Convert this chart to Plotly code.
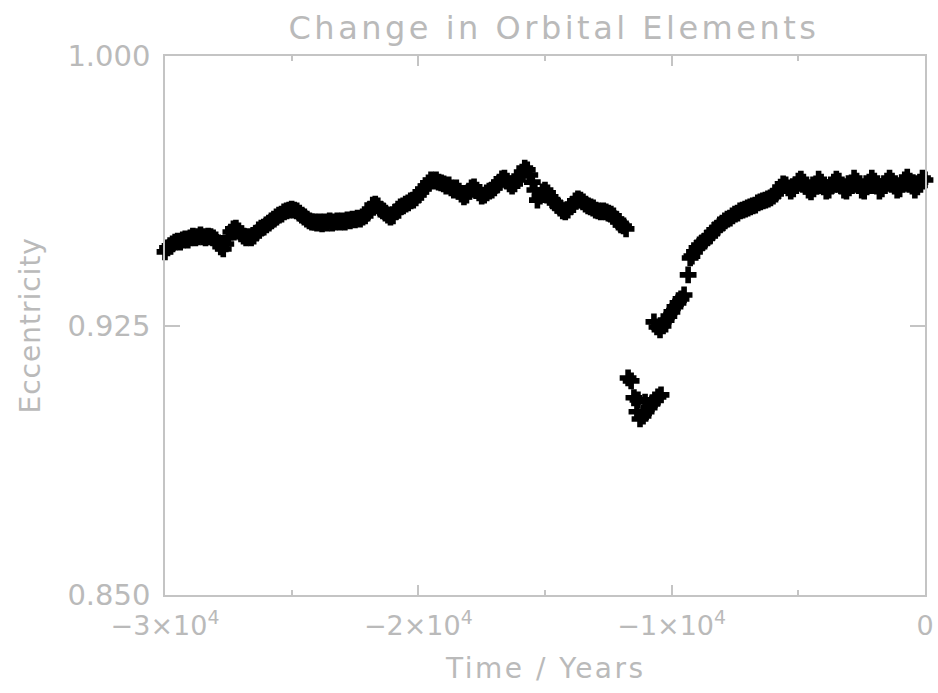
import numpy as np
import plotly.graph_objects as go

# ---- data (time in years, eccentricity) ----
# Segment 1: sampled every 100 yr from -30000 to -11800
seg1_start = -30000
seg1_step = 100
seg1_ecc = [
    0.9455, 0.9466, 0.9472, 0.9477, 0.9482, 0.9485, 0.9482, 0.9488, 0.9491, 0.9488,
    0.9494, 0.9499, 0.9494, 0.9497, 0.9502, 0.9497, 0.9494, 0.9499, 0.9497, 0.9494,
    0.9488, 0.9480, 0.9469, 0.9463, 0.9477, 0.9494, 0.9510, 0.9519, 0.9521, 0.9513,
    0.9505, 0.9499, 0.9494, 0.9497, 0.9494, 0.9499, 0.9507, 0.9516, 0.9521, 0.9524,
    0.9530, 0.9535, 0.9541, 0.9546, 0.9552, 0.9557, 0.9560, 0.9566, 0.9569, 0.9571,
    0.9574, 0.9571, 0.9569, 0.9563, 0.9557, 0.9552, 0.9546, 0.9541, 0.9538, 0.9538,
    0.9535, 0.9538, 0.9533, 0.9538, 0.9535, 0.9541, 0.9535, 0.9538, 0.9541, 0.9538,
    0.9541, 0.9538, 0.9544, 0.9541, 0.9546, 0.9544, 0.9549, 0.9546, 0.9552, 0.9555,
    0.9563, 0.9574, 0.9585, 0.9588, 0.9583, 0.9574, 0.9569, 0.9563, 0.9557, 0.9552,
    0.9555, 0.9566, 0.9574, 0.9580, 0.9583, 0.9588, 0.9591, 0.9597, 0.9599, 0.9605,
    0.9613, 0.9622, 0.9630, 0.9638, 0.9647, 0.9655, 0.9652, 0.9655, 0.9649, 0.9647,
    0.9644, 0.9638, 0.9641, 0.9633, 0.9627, 0.9633, 0.9624, 0.9616, 0.9608, 0.9613,
    0.9624, 0.9633, 0.9636, 0.9627, 0.9619, 0.9610, 0.9613, 0.9619, 0.9624, 0.9627,
    0.9633, 0.9641, 0.9649, 0.9658, 0.9660, 0.9652, 0.9644, 0.9638, 0.9644, 0.9655,
    0.9666, 0.9677, 0.9688, 0.9683, 0.9669, 0.9649, 0.9627, 0.9599, 0.9610, 0.9622,
    0.9627, 0.9619, 0.9608, 0.9597, 0.9591, 0.9585, 0.9577, 0.9569, 0.9566, 0.9571,
    0.9580, 0.9588, 0.9597, 0.9602, 0.9599, 0.9594, 0.9588, 0.9583, 0.9580, 0.9577,
    0.9571, 0.9569, 0.9566, 0.9569, 0.9566, 0.9563, 0.9560, 0.9555, 0.9546, 0.9538,
    0.9530, 0.9527, 0.9519,
]

# Segment 2: the excursion, irregular sampling
seg2_time = [-11720, -11600, -11490, -11370, -11330, -11250, -11130, -11050, -11010,
             -10890, -10780, -10660, -10540, -10420,
             -10700, -10580, -10460, -10340, -10220, -10110, -9990, -9870, -9750,
             -9630, -9510, -9350, -9270]
seg2_ecc = [0.9104, 0.9096, 0.9049, 0.9010, 0.9043, 0.8990, 0.8998, 0.9037, 0.9010,
            0.9021, 0.9032, 0.9043, 0.9051, 0.9057,
            0.9260, 0.9246, 0.9238, 0.9249, 0.9265, 0.9276, 0.9288, 0.9302, 0.9313,
            0.9324, 0.9335, 0.9391, 0.9438]

# Segment 3: sampled every 100 yr from -9200 to 0
seg3_start = -9200
seg3_step = 100
seg3_ecc = [
    0.9443, 0.9455, 0.9466, 0.9474, 0.9480, 0.9485, 0.9494, 0.9499, 0.9508, 0.9516,
    0.9521, 0.9530, 0.9535, 0.9541, 0.9546, 0.9549, 0.9555, 0.9560, 0.9563, 0.9569,
    0.9571, 0.9574, 0.9577, 0.9580, 0.9583, 0.9585, 0.9591, 0.9594, 0.9597, 0.9599,
    0.9602, 0.9605, 0.9610, 0.9616, 0.9624, 0.9635, 0.9644, 0.9641, 0.9633, 0.9624,
    0.9630, 0.9641, 0.9652, 0.9657, 0.9649, 0.9638, 0.9627, 0.9622, 0.9630, 0.9644,
    0.9657, 0.9649, 0.9636, 0.9624, 0.9627, 0.9638, 0.9649, 0.9657, 0.9652, 0.9638,
    0.9627, 0.9624, 0.9633, 0.9647, 0.9660, 0.9652, 0.9641, 0.9627, 0.9624, 0.9636,
    0.9649, 0.9660, 0.9652, 0.9638, 0.9624, 0.9630, 0.9641, 0.9652, 0.9660, 0.9652,
    0.9638, 0.9627, 0.9630, 0.9644, 0.9655, 0.9663, 0.9652, 0.9638, 0.9627, 0.9636,
    0.9649, 0.9660, 0.9655,
]

x_tickvals = [-30000, -20000, -10000, 0]
x_ticktext = ["\u22123\u00d710<sup>4</sup>", "\u22122\u00d710<sup>4</sup>",
              "\u22121\u00d710<sup>4</sup>", "0"]
x_minor = [-25000, -15000, -5000]
y_tickvals = [0.85, 0.925, 1.0]
y_ticktext = ["0.850", "0.925", "1.000"]

seg1_time = seg1_start + seg1_step * np.arange(len(seg1_ecc))
seg3_time = seg3_start + seg3_step * np.arange(len(seg3_ecc))
time = np.concatenate([seg1_time, seg2_time, seg3_time])
ecc = np.concatenate([seg1_ecc, seg2_ecc, seg3_ecc])

GRAY_TXT = "#bababa"
GRAY_AX = "#c4c4c4"
FONT = "DejaVu Sans"


def spaced(s, px):
    return f'<span style="letter-spacing:{px}px">{s}</span>'


fig = go.Figure()
fig.add_trace(go.Scatter(
    x=time, y=ecc, mode="markers",
    marker=dict(symbol="cross", size=14, color="black", line=dict(width=0)),
    cliponaxis=False, showlegend=False,
))

axis_common = dict(
    showgrid=False, zeroline=False, showline=True, linecolor=GRAY_AX, linewidth=1.5,
    mirror="allticks", ticks="inside", tickcolor=GRAY_AX, tickwidth=1.5,
    automargin=False,
)

fig.update_layout(
    width=938, height=693,
    margin=dict(l=165, r=13, t=56, b=98),
    paper_bgcolor="white", plot_bgcolor="white",
    title=dict(text=spaced("Change in Orbital Elements", 3.5), x=554 / 938, xref="container",
               xanchor="center", y=1 - 28 / 693, yref="container", yanchor="middle",
               font=dict(family=FONT, size=32, color=GRAY_TXT)),
    xaxis=dict(
        range=[-30000, 0], tickmode="array", tickvals=x_tickvals, ticktext=x_ticktext,
        ticklen=10, ticklabelstandoff=6,
        tickfont=dict(family=FONT, size=27, color=GRAY_TXT),
        minor=dict(tickmode="array", tickvals=x_minor, ticks="inside", ticklen=5,
                   tickcolor=GRAY_AX, tickwidth=1.5),
        **axis_common,
    ),
    yaxis=dict(
        range=[0.85, 1.0], tickmode="array", tickvals=y_tickvals, ticktext=y_ticktext,
        ticklen=15, ticklabelstandoff=7,
        tickfont=dict(family=FONT, size=29, color=GRAY_TXT),
        **axis_common,
    ),
    annotations=[
        dict(text=spaced("Time / Years", 2.5), xref="paper", yref="paper",
             x=0.5, y=-(668 - 595) / 539, xanchor="center", yanchor="middle",
             showarrow=False, font=dict(family=FONT, size=28, color=GRAY_TXT)),
        dict(text=spaced("Eccentricity", 1), xref="paper", yref="paper",
             x=-(165 - 30) / 760, y=0.5, xanchor="center", yanchor="middle",
             textangle=-90, showarrow=False,
             font=dict(family=FONT, size=28, color=GRAY_TXT)),
    ],
)

fig.write_html("out.html", config={"displayModeBar": False},
               post_script="document.body.style.margin='0';")
